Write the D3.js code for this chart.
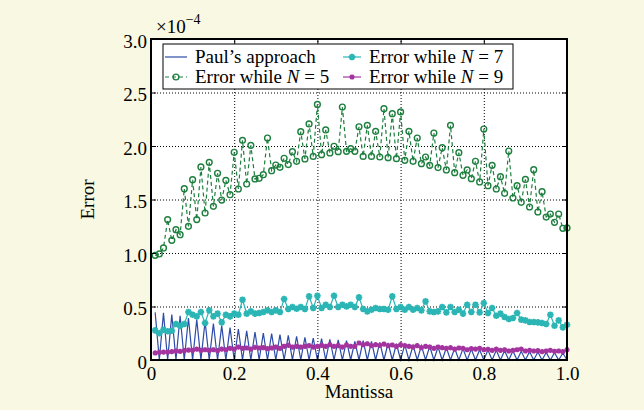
<!DOCTYPE html>
<html>
<head>
<meta charset="utf-8">
<script src="https://cdn.jsdelivr.net/npm/d3@7"></script>
<style>
  body { margin: 0; background: #f9f8e2; }
  svg { display: block; font-family: "Liberation Serif", "Times New Roman", serif; }
  .grid line { stroke: #000; stroke-dasharray: 1,2; stroke-width: 1; }
  .grid path { display: none; }
  .axis path { display: none; }
  .axis line { stroke: #000; stroke-width: 1; }
  .axis text { font-size: 19px; fill: #000; font-family: "Liberation Serif", "Times New Roman", serif; }
</style>
</head>
<body>
<div id="chart"></div>
<script>
// sample positions (mantissa)
const mantissa = [
  0.01,0.02,0.03,0.04,0.05,0.06,0.07,0.08,0.09,0.10,
  0.11,0.12,0.13,0.14,0.15,0.16,0.17,0.18,0.19,0.20,
  0.21,0.22,0.23,0.24,0.25,0.26,0.27,0.28,0.29,0.30,
  0.31,0.32,0.33,0.34,0.35,0.36,0.37,0.38,0.39,0.40,
  0.41,0.42,0.43,0.44,0.45,0.46,0.47,0.48,0.49,0.50,
  0.51,0.52,0.53,0.54,0.55,0.56,0.57,0.58,0.59,0.60,
  0.61,0.62,0.63,0.64,0.65,0.66,0.67,0.68,0.69,0.70,
  0.71,0.72,0.73,0.74,0.75,0.76,0.77,0.78,0.79,0.80,
  0.81,0.82,0.83,0.84,0.85,0.86,0.87,0.88,0.89,0.90,
  0.91,0.92,0.93,0.94,0.95,0.96,0.97,0.98,0.99,1.00
];

// errors, in units of 1e-4
const paul = [
  0.445,0,0.440,0,0.424,0,0.414,0,0.393,0,
  0.377,0,0.361,0,0.340,0,0.321,0,0.302,0,
  0.290,0,0.272,0,0.262,0,0.252,0,0.246,0,
  0.237,0,0.230,0,0.221,0,0.211,0,0.205,0,
  0.199,0,0.193,0,0.187,0,0.180,0,0.174,0,
  0.180,0,0.174,0,0.165,0,0.159,0,0.152,0,
  0.143,0,0.137,0,0.134,0,0.127,0,0.121,0,
  0.115,0,0.109,0,0.106,0,0.102,0,0.096,0,
  0.093,0,0.090,0,0.087,0,0.084,0,0.081,0,
  0.078,0,0.074,0,0.071,0,0.068,0,0.065,0
];

const errN5 = [
  0.978,0.991,1.047,1.312,1.118,1.218,1.171,1.601,1.249,1.685,
  1.312,1.804,1.374,1.847,1.436,1.745,1.495,1.679,1.545,1.941,
  1.598,2.053,1.645,2.006,1.692,1.698,1.732,2.075,1.769,1.822,
  1.801,1.885,1.826,1.947,1.857,2.134,1.879,2.206,1.903,2.389,
  1.919,2.150,1.935,1.997,1.947,2.364,1.950,1.975,1.950,2.180,
  1.903,2.193,1.903,2.137,1.897,2.349,1.891,2.302,1.882,2.318,
  1.866,2.137,1.857,2.075,1.835,1.897,1.819,2.121,1.798,1.984,
  1.776,2.193,1.751,1.938,1.726,1.776,1.695,1.857,1.664,2.159,
  1.629,1.819,1.598,1.713,1.558,1.953,1.514,1.629,1.474,1.688,
  1.430,1.779,1.383,1.573,1.336,1.364,1.287,1.364,1.231,1.234
];

const errN7 = [
  0.277,0.250,0.283,0.268,0.274,0.336,0.320,0.336,0.448,0.423,
  0.408,0.448,0.346,0.464,0.408,0.433,0.352,0.423,0.408,0.433,
  0.423,0.563,0.433,0.454,0.433,0.439,0.448,0.464,0.448,0.464,
  0.448,0.570,0.476,0.495,0.479,0.495,0.476,0.595,0.486,0.601,
  0.486,0.517,0.495,0.601,0.495,0.517,0.501,0.517,0.495,0.585,
  0.476,0.454,0.470,0.486,0.476,0.476,0.470,0.595,0.476,0.495,
  0.470,0.495,0.470,0.486,0.464,0.548,0.454,0.448,0.454,0.495,
  0.445,0.495,0.448,0.470,0.433,0.517,0.448,0.517,0.445,0.532,
  0.439,0.486,0.414,0.433,0.402,0.383,0.392,0.439,0.377,0.370,
  0.355,0.355,0.352,0.346,0.336,0.423,0.320,0.370,0.305,0.330
];

const errN9 = [
  0.066,0.071,0.074,0.074,0.078,0.084,0.081,0.087,0.093,0.090,
  0.102,0.090,0.096,0.090,0.096,0.087,0.102,0.096,0.109,0.102,
  0.121,0.109,0.112,0.102,0.118,0.112,0.115,0.106,0.112,0.121,
  0.109,0.128,0.137,0.121,0.127,0.121,0.127,0.134,0.121,0.127,
  0.137,0.127,0.143,0.127,0.134,0.121,0.140,0.127,0.127,0.159,
  0.143,0.152,0.134,0.143,0.137,0.149,0.134,0.140,0.127,0.143,
  0.134,0.127,0.121,0.134,0.115,0.127,0.121,0.109,0.121,0.115,
  0.109,0.115,0.102,0.112,0.109,0.096,0.106,0.102,0.109,0.096,
  0.099,0.090,0.102,0.090,0.096,0.084,0.090,0.096,0.102,0.084,
  0.090,0.084,0.087,0.078,0.084,0.090,0.081,0.084,0.078,0.096
];

const xTicks = [0, 0.2, 0.4, 0.6, 0.8, 1.0];
const yTicks = [0, 0.5, 1.0, 1.5, 2.0, 2.5, 3.0];

const SERIES = [
  { key: 'paul', vals: paul,  label: ['Paul’s approach'],           color: '#2d4ba8', dash: null,  marker: null },
  { key: 'n5',   vals: errN5, label: ['Error while ', 'N', ' = 5'], color: '#1d7f3e', dash: '4,3', marker: 'circle' },
  { key: 'n7',   vals: errN7, label: ['Error while ', 'N', ' = 7'], color: '#2bb5b5', dash: null,  marker: 'star' },
  { key: 'n9',   vals: errN9, label: ['Error while ', 'N', ' = 9'], color: '#a3349f', dash: null,  marker: 'small' }
];

const W = 644, H = 410;
const M = { top: 39, right: 77, bottom: 50, left: 151 };
const w = W - M.left - M.right, h = H - M.top - M.bottom;

const svg = d3.select('#chart').append('svg').attr('width', W).attr('height', H);
svg.append('rect').attr('width', W).attr('height', H).attr('fill', '#f9f8e2');

const g = svg.append('g').attr('transform', `translate(${M.left},${M.top})`);
const x = d3.scaleLinear().domain([0, 1]).range([0, w]);
const y = d3.scaleLinear().domain([0, 3]).range([h, 0]);

g.append('rect').attr('width', w).attr('height', h).attr('fill', '#fff');

// dotted grid
g.append('g').attr('class', 'grid').attr('transform', `translate(0,${h})`)
  .call(d3.axisBottom(x).tickValues(xTicks.slice(1, -1)).tickSize(-h).tickFormat(''));
g.append('g').attr('class', 'grid')
  .call(d3.axisLeft(y).tickValues(yTicks.slice(1, -1)).tickSize(-w).tickFormat(''));

g.append('clipPath').attr('id', 'clip').append('rect')
  .attr('x', -4).attr('y', -4).attr('width', w + 8).attr('height', h + 8);
const plot = g.append('g').attr('clip-path', 'url(#clip)');

const line = d3.line().x((d, i) => x(mantissa[i])).y(d => y(d));

function starPath(r) {
  const a = r * 0.72;
  return `M${-r},0L${r},0M0,${-r}L0,${r}M${-a},${-a}L${a},${a}M${-a},${a}L${a},${-a}`;
}

function drawMarker(sel, s) {
  if (s.marker === 'circle') {
    sel.append('circle').attr('r', 2.9).attr('fill', 'none')
      .attr('stroke', s.color).attr('stroke-width', 1.4);
  } else if (s.marker === 'star') {
    sel.append('path').attr('d', starPath(3.3)).attr('fill', 'none')
      .attr('stroke', s.color).attr('stroke-width', 1.9);
  } else if (s.marker === 'small') {
    sel.append('path').attr('d', starPath(2.6)).attr('fill', 'none')
      .attr('stroke', s.color).attr('stroke-width', 1.6);
  }
}

SERIES.forEach(s => {
  plot.append('path').datum(s.vals)
    .attr('fill', 'none').attr('stroke', s.color)
    .attr('stroke-width', s.key === 'paul' ? 1.2 : 1.2)
    .attr('stroke-dasharray', s.dash)
    .attr('d', line);
  if (s.marker) {
    plot.selectAll(null).data(s.vals).enter().append('g')
      .attr('transform', (d, i) => `translate(${x(mantissa[i])},${y(d)})`)
      .each(function () { drawMarker(d3.select(this), s); });
  }
});

// axes with inward ticks on all sides
g.append('g').attr('class', 'axis').attr('transform', `translate(0,${h})`)
  .call(d3.axisBottom(x).tickValues(xTicks).tickSize(-5).tickPadding(7)
    .tickFormat(d => d === 0 ? '0' : d3.format('.1f')(d)));
g.append('g').attr('class', 'axis')
  .call(d3.axisLeft(y).tickValues(yTicks).tickSize(-5).tickPadding(4)
    .tickFormat(d => d === 0 ? '0' : d3.format('.1f')(d)))
  .selectAll('text').attr('transform', 'translate(0,2)');
g.append('g').attr('class', 'axis')
  .call(d3.axisTop(x).tickValues(xTicks).tickSize(-5).tickFormat(''));
g.append('g').attr('class', 'axis').attr('transform', `translate(${w},0)`)
  .call(d3.axisRight(y).tickValues(yTicks).tickSize(-5).tickFormat(''));

g.append('rect').attr('width', w).attr('height', h)
  .attr('fill', 'none').attr('stroke', '#000').attr('stroke-width', 2);

// exponent note
const ex = svg.append('text').attr('x', 156).attr('y', 33).attr('font-size', 19);
ex.append('tspan').text('×10');
ex.append('tspan').attr('font-size', 14).attr('dy', -9).text('−4');

// axis titles
svg.append('text').attr('x', M.left + w / 2).attr('y', 398)
  .attr('text-anchor', 'middle').attr('font-size', 19).text('Mantissa');
svg.append('text').attr('transform', `translate(94,${M.top + h / 2}) rotate(-90)`)
  .attr('text-anchor', 'middle').attr('font-size', 19).text('Error');

// legend
const legPos = [
  { x: 165, y: 57 }, { x: 165, y: 77 }, { x: 343, y: 57 }, { x: 343, y: 77 }
];
const legW = [22, 22, 18, 18];
svg.append('rect').attr('x', 163).attr('y', 44).attr('width', 350).attr('height', 45)
  .attr('fill', '#fff').attr('stroke', '#000').attr('stroke-width', 1);

SERIES.forEach((s, i) => {
  const p = legPos[i];
  const item = svg.append('g').attr('transform', `translate(${p.x},${p.y})`);
  item.append('line').attr('x1', 0).attr('x2', legW[i]).attr('y1', 0).attr('y2', 0)
    .attr('stroke', s.color).attr('stroke-width', 1.2).attr('stroke-dasharray', s.dash);
  if (s.marker) {
    const mk = item.append('g').attr('transform', `translate(${legW[i] / 2},0)`);
    drawMarker(mk, s);
  }
  const t = item.append('text').attr('x', legW[i] + 8).attr('y', 6).attr('font-size', 19);
  s.label.forEach((part, j) => {
    t.append('tspan').attr('font-style', j === 1 ? 'italic' : null).text(part);
  });
});
</script>
</body>
</html>
